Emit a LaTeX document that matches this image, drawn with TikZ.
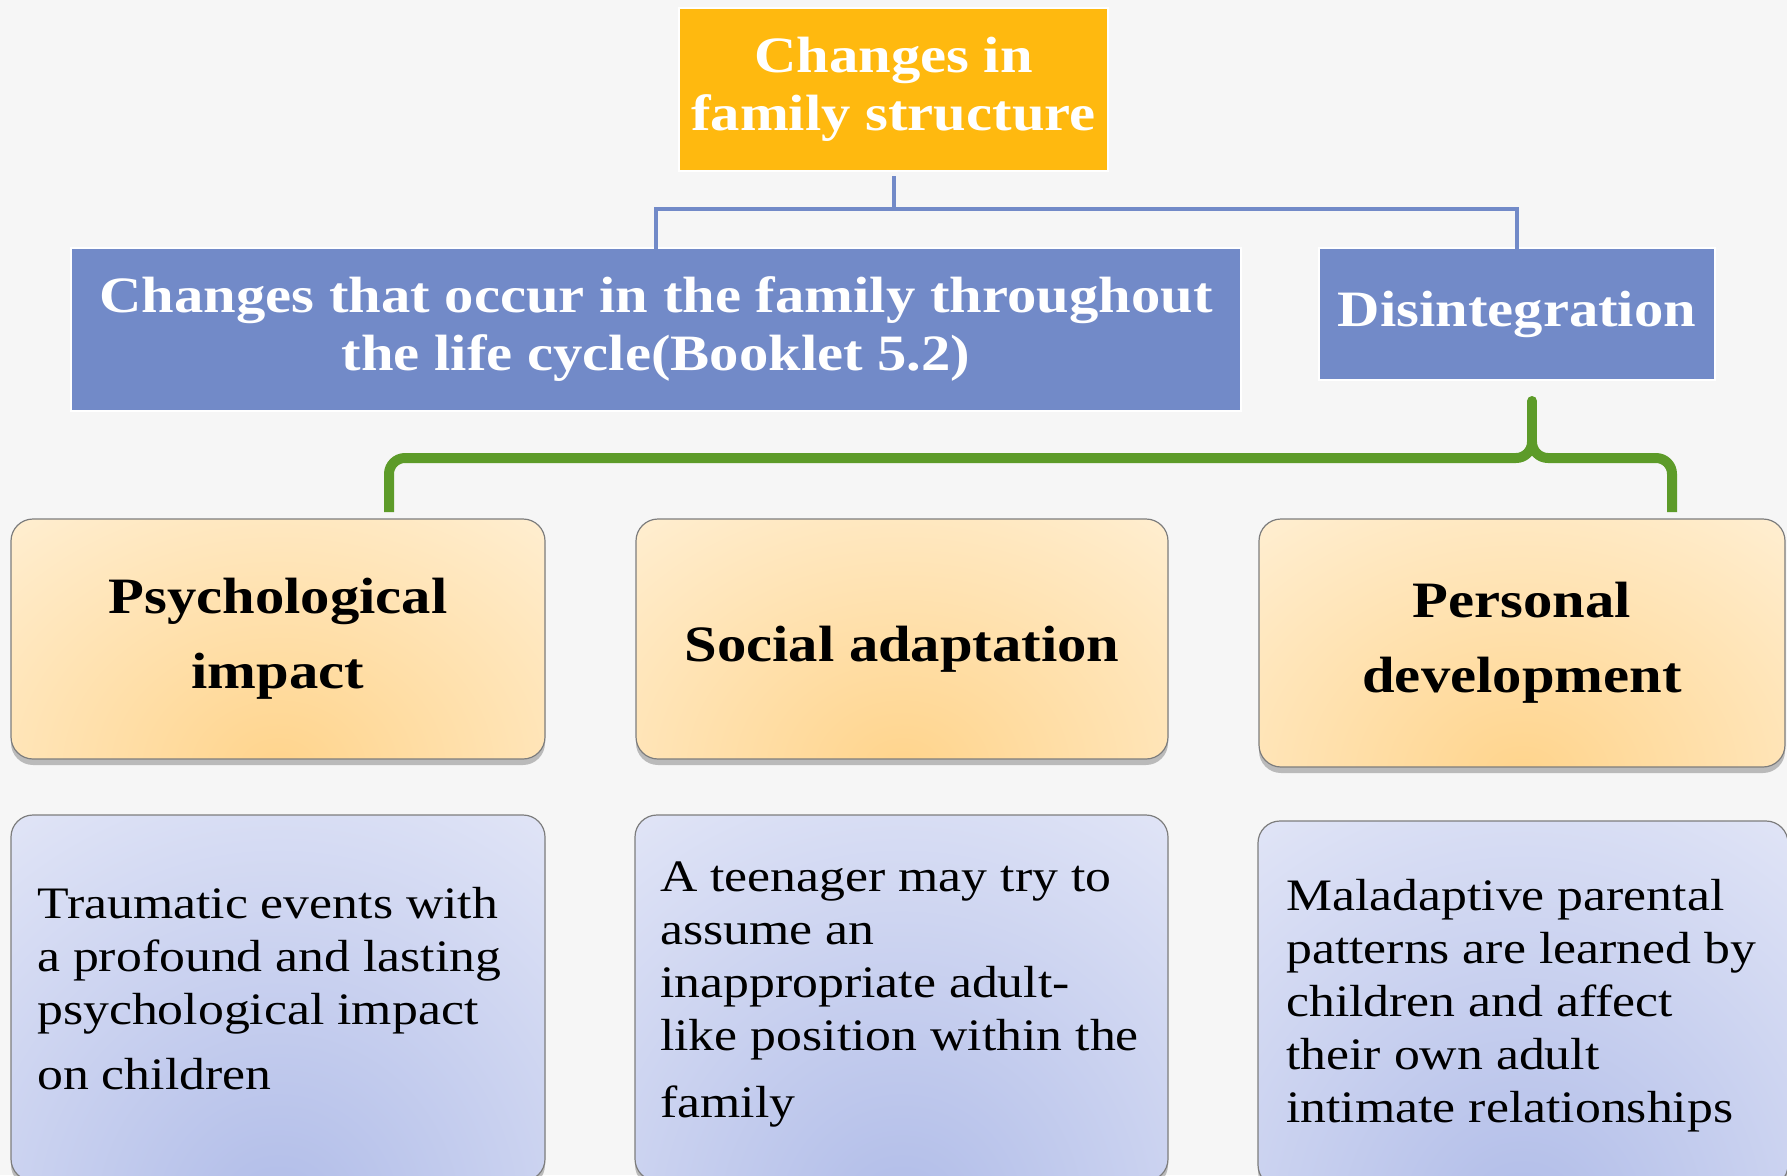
\documentclass[tikz,border=0pt]{standalone}
\usepackage{fontspec}
\setmainfont{Liberation Serif}[FakeStretch=1.15]
\usetikzlibrary{shadows}
\definecolor{bg}{RGB}{246,246,246}
\definecolor{amber}{RGB}{255,185,15}
\definecolor{slate}{RGB}{114,138,200}
\definecolor{leaf}{RGB}{93,155,41}
\definecolor{peachIn}{RGB}{255,212,140}
\definecolor{peachOut}{RGB}{255,247,232}
\definecolor{lavIn}{RGB}{176,188,232}
\definecolor{lavOut}{RGB}{237,239,250}
\definecolor{rim}{RGB}{125,125,125}
\begin{document}
\begin{tikzpicture}[x=1pt,y=-1pt,
  hdr/.style={fill=amber, draw=white, line width=1.5pt, inner sep=0pt, outer sep=0pt, text=white, font=\bfseries\fontsize{51}{58}\selectfont, align=center},
  bar/.style={fill=slate, draw=white, line width=1.5pt, inner sep=0pt, outer sep=0pt, text=white, font=\bfseries\fontsize{51}{58}\selectfont, align=center},
  conn/.style={draw=slate, line width=4pt},
  brace/.style={draw=leaf, line width=10pt, line join=round},
  card/.style={rounded corners=22pt, draw=rim, line width=1.2pt, inner sep=0pt, outer sep=0pt,
    drop shadow={shadow xshift=0pt, shadow yshift=-6pt, opacity=0.35, fill=black!70}},
  peach/.style={card, path picture={\shade[inner color=peachIn, outer color=peachOut] ([yshift=-10pt]path picture bounding box.south) ellipse [x radius=560pt, y radius=440pt];},
    font=\bfseries\fontsize{51}{75}\selectfont, align=center},
  lav/.style={card, path picture={\shade[inner color=lavIn, outer color=lavOut] ([yshift=-40pt]path picture bounding box.south) ellipse [x radius=600pt, y radius=620pt];}},
  body/.style={inner sep=0pt, anchor=north west, align=left, font=\fontsize{45}{53}\selectfont}
]
\useasboundingbox (0,0) rectangle (1787,1175);
\clip (0,0) rectangle (1787,1175);
\fill[bg] (0,0) rectangle (1787,1175);

% headers
\node[hdr, minimum width=429pt, minimum height=163pt] (top) at (893.5,89.5) {Changes in\\family structure};
\node[bar, minimum width=1170pt, minimum height=163pt] (life) at (656,329.5) {Changes that occur in the family throughout\\the life cycle(Booklet 5.2)};
\node[bar, minimum width=396pt, minimum height=132pt] (disint) at (1517,314) {Disintegration};

% blue connectors
\draw[conn, shorten <=5pt] (top.south) -- ++(0,38) coordinate (junc) -| ([yshift=-5pt]life.north);
\draw[conn] (junc) -| ([yshift=-5pt]disint.north);

% second row cards
\node[peach, minimum width=534pt, minimum height=240pt] (psy) at (278,639) {Psychological\\impact};
\node[peach, minimum width=532pt, minimum height=240pt, text height=56pt, text depth=12pt] (soc) at (902,639) {Social adaptation};
\node[peach, minimum width=526pt, minimum height=248pt] (pers) at (1522,643) {Personal\\development};

% green brace
\coordinate (tip) at (1532,401);
\coordinate (legL) at (389,512);
\coordinate (legR) at (1672,512);
\draw[brace] (legL) -- (389,474) to[out=90,in=180] (405,458) -- (1516,458) to[out=0,in=-90] (1532,442);
\draw[brace] (1532,442) to[out=-90,in=180] (1548,458) -- (1656,458) to[out=0,in=90] (1672,474) -- (legR);
\draw[brace, line cap=round] (1532,444) -- (tip);

% third row cards
\node[lav, minimum width=534pt, minimum height=366pt] (trauma) at (278,998) {};
\node[lav, minimum width=533pt, minimum height=366pt] (teen) at (901.5,998) {};
\node[lav, minimum width=530pt, minimum height=366pt] (mal) at (1523,1004) {};

\node[body] (traumaT) at (37,887) {Traumatic events with\\a profound and lasting\\psychological impact\\[12pt]on children};
\node[body] (teenT) at (660,862) {A teenager may try to\\assume an\\inappropriate adult-\\like position within the\\[14pt]family};
\node[body] (malT) at (1286,879) {Maladaptive parental\\patterns are learned by\\children and affect\\their own adult\\intimate relationships};
\end{tikzpicture}
\end{document}
